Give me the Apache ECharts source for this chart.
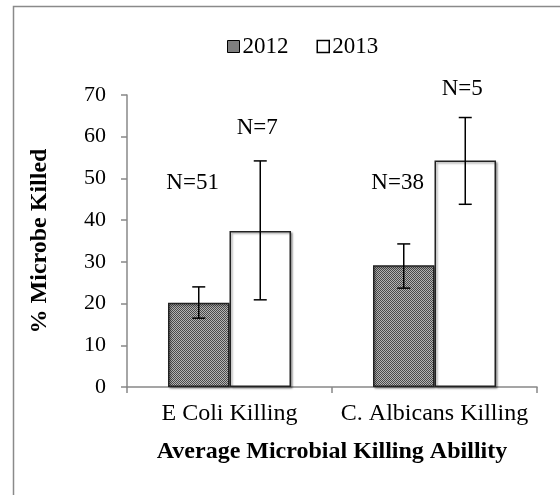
<!DOCTYPE html>
<html>
<head>
<meta charset="utf-8">
<script src="https://cdn.jsdelivr.net/npm/echarts@6/dist/echarts.min.js"></script>
<style>
  html, body { margin: 0; padding: 0; background: #fff; }
  #chart { width: 560px; height: 495px; }
</style>
</head>
<body>
<div id="chart"></div>
<script>
const categories = ["E Coli Killing", "C. Albicans Killing"];
const seriesNames = ["2012", "2013"];
const mean2012 = [20.2, 29.2];
const mean2013 = [37.4, 54.3];
const low2012 = [16.5, 23.7];
const high2012 = [24.0, 34.3];
const low2013 = [20.9, 43.8];
const high2013 = [54.2, 64.6];
const nText2012 = ["N=51", "N=38"];
const nText2013 = ["N=7", "N=5"];
const nAt2012 = [48.9, 48.9];
const nAt2013 = [62.0, 71.5];
const yTicks = [0, 10, 20, 30, 40, 50, 60, 70];

const FONT = "'Liberation Serif', 'Times New Roman', serif";

// fine dotted fill used by the 2012 bars
function dotPattern() {
  const c = document.createElement("canvas");
  c.width = 2;
  c.height = 2;
  const ctx = c.getContext("2d");
  ctx.fillStyle = "#b4b4b4";
  ctx.fillRect(0, 0, 2, 2);
  ctx.fillStyle = "#4a4a4a";
  ctx.fillRect(0, 0, 1, 1);
  ctx.fillRect(1, 1, 1, 1);
  return { image: c, repeat: "repeat" };
}

const BAR_SHIFT = 0.15; // bar centre offset as a share of the category band

function errorBars(side) {
  return function (params, api) {
    const i = api.value(0);
    const band = api.size([1, 0])[0];
    const x = api.coord([i, 0])[0] + side * band * BAR_SHIFT;
    const yLo = api.coord([i, api.value(1)])[1];
    const yHi = api.coord([i, api.value(2)])[1];
    const cap = 6.5;
    const st = { stroke: "#000", lineWidth: 1.5 };
    return {
      type: "group",
      children: [
        { type: "line", shape: { x1: x, y1: yLo, x2: x, y2: yHi }, style: st },
        { type: "line", shape: { x1: x - cap, y1: yLo, x2: x + cap, y2: yLo }, style: st },
        { type: "line", shape: { x1: x - cap, y1: yHi, x2: x + cap, y2: yHi }, style: st }
      ]
    };
  };
}

function nLabels(side, texts) {
  return function (params, api) {
    const i = api.value(0);
    const band = api.size([1, 0])[0];
    const x = api.coord([i, 0])[0] + side * band * BAR_SHIFT;
    const y = api.coord([i, api.value(1)])[1];
    return {
      type: "text",
      style: {
        text: texts[i],
        x: x,
        y: y,
        align: "center",
        verticalAlign: "middle",
        font: "23px " + FONT,
        fill: "#000"
      }
    };
  };
}

const chart = echarts.init(document.getElementById("chart"));

const option = {
  animation: false,
  textStyle: { fontFamily: FONT },
  graphic: [
    {
      type: "rect",
      shape: { x: 13.5, y: 6.5, width: 700, height: 700 },
      style: { fill: "none", stroke: "#8a8a8a", lineWidth: 1.5 },
      silent: true
    }
  ],
  legend: {
    top: 30,
    left: 222,
    itemWidth: 12,
    itemHeight: 12,
    itemGap: 28,
    textStyle: { fontFamily: FONT, fontSize: 23, color: "#000", padding: [0, 0, 0, -2] },
    data: [
      { name: seriesNames[0], icon: "rect", itemStyle: { color: dotPattern(), borderColor: "#000", borderWidth: 1 } },
      { name: seriesNames[1], icon: "rect", itemStyle: { color: "#fff", borderColor: "#000", borderWidth: 1.5 } }
    ]
  },
  grid: { left: 127, right: 23, top: 95, bottom: 108 },
  xAxis: {
    type: "category",
    data: categories,
    name: "Average Microbial Killing Abillity",
    nameLocation: "middle",
    nameGap: 53,
    nameTextStyle: { fontFamily: FONT, fontSize: 24, fontWeight: "bold", color: "#000" },
    axisLine: { lineStyle: { color: "#888", width: 1.5 } },
    axisTick: { show: true, alignWithLabel: false, length: 6, lineStyle: { color: "#888", width: 1.5 } },
    axisLabel: { interval: 0, fontFamily: FONT, fontSize: 24, color: "#000", margin: 15 }
  },
  yAxis: {
    type: "value",
    min: yTicks[0],
    max: yTicks[yTicks.length - 1],
    interval: 10,
    name: "% Microbe Killed",
    nameLocation: "middle",
    nameGap: 75,
    nameTextStyle: { fontFamily: FONT, fontSize: 24, fontWeight: "bold", color: "#000" },
    axisLine: { show: true, lineStyle: { color: "#888", width: 1.5 } },
    axisTick: { show: true, length: 6, lineStyle: { color: "#888", width: 1.5 } },
    splitLine: { show: false },
    axisLabel: { fontFamily: FONT, fontSize: 22, color: "#000", margin: 21 }
  },
  series: [
    {
      name: seriesNames[0],
      type: "bar",
      data: mean2012,
      barGap: "0%",
      barCategoryGap: "40%",
      itemStyle: {
        color: dotPattern(),
        borderColor: "#222",
        borderWidth: 1.5,
        shadowColor: "rgba(0,0,0,0.35)",
        shadowBlur: 2,
        shadowOffsetX: 1.5,
        shadowOffsetY: 1.5
      }
    },
    {
      name: seriesNames[1],
      type: "bar",
      data: mean2013,
      itemStyle: {
        color: "#fff",
        borderColor: "#222",
        borderWidth: 1.5,
        shadowColor: "rgba(0,0,0,0.35)",
        shadowBlur: 2,
        shadowOffsetX: 1.5,
        shadowOffsetY: 1.5
      }
    },
    {
      type: "custom",
      z: 5,
      silent: true,
      renderItem: errorBars(-1),
      data: categories.map((c, i) => [i, low2012[i], high2012[i]])
    },
    {
      type: "custom",
      z: 5,
      silent: true,
      renderItem: errorBars(1),
      data: categories.map((c, i) => [i, low2013[i], high2013[i]])
    },
    {
      type: "custom",
      z: 5,
      silent: true,
      renderItem: nLabels(-1.2, nText2012),
      data: categories.map((c, i) => [i, nAt2012[i]])
    },
    {
      type: "custom",
      z: 5,
      silent: true,
      renderItem: nLabels(0.9, nText2013),
      data: categories.map((c, i) => [i, nAt2013[i]])
    }
  ]
};

chart.setOption(option);
</script>
</body>
</html>
